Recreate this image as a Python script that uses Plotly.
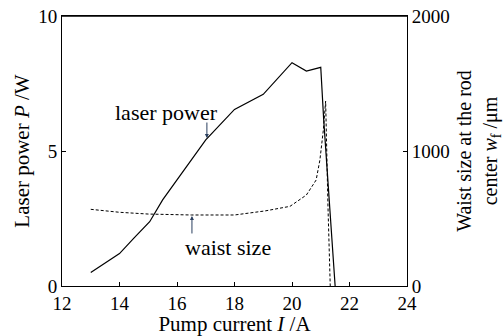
import plotly.graph_objects as go

# Laser power (left axis, W)
power_I = [13.0, 14.0, 14.5, 15.05, 15.5, 16.0, 17.0, 18.0, 19.0, 20.0, 20.5, 21.0, 21.1, 21.5]
power_P = [0.5, 1.2, 1.77, 2.38, 3.19, 3.93, 5.41, 6.54, 7.1, 8.27, 7.96, 8.1, 6.2, 0.0]

# Waist size (right axis, um)
waist_I = [13.0, 14.0, 15.0, 16.5, 18.0, 19.06, 19.93, 20.5, 20.84, 20.97, 21.09, 21.17, 21.25, 21.33]
waist_w = [568, 546, 533, 526, 526, 556, 590, 674, 785, 933, 1155, 1370, 600, 0]

FONT = "Liberation Serif"
FS_TICK = 19
FS_TITLE = 21
FS_ANN = 22

fig = go.Figure()
fig.add_trace(go.Scatter(x=power_I, y=power_P, mode="lines",
                         line=dict(color="black", width=1.2), showlegend=False))
fig.add_trace(go.Scatter(x=waist_I, y=waist_w, mode="lines", yaxis="y2",
                         line=dict(color="black", width=1, dash="3px,2px"), showlegend=False))

fig.add_annotation(x=17.04, y=5.48, ax=17.04, ay=6.11, xref="x", yref="y", axref="x", ayref="y",
                   showarrow=True, arrowhead=2, arrowsize=0.8, arrowwidth=1, text="")
fig.add_annotation(x=15.62, y=6.44, xref="x", yref="y", text="laser power", showarrow=False,
                   font=dict(family=FONT, size=FS_ANN, color="black"))
fig.add_annotation(x=16.52, y=2.59, ax=16.52, ay=1.89, xref="x", yref="y", axref="x", ayref="y",
                   showarrow=True, arrowhead=2, arrowsize=0.8, arrowwidth=1, text="")
fig.add_annotation(x=17.77, y=1.44, xref="x", yref="y", text="waist size", showarrow=False,
                   font=dict(family=FONT, size=FS_ANN, color="black"))

# top edge of the plot frame
fig.add_shape(type="line", xref="paper", yref="paper", x0=0, x1=1, y0=1, y1=1,
              line=dict(color="black", width=1.5), layer="above")

axis_common = dict(showline=True, linecolor="black", linewidth=1, ticks="inside", ticklen=4,
                   tickcolor="black", showgrid=False, zeroline=False, automargin=False,
                   ticklabeloverflow="allow",
                   tickfont=dict(family=FONT, size=FS_TICK, color="black"))

fig.update_layout(
    width=504, height=336,
    margin=dict(l=62, r=97, t=16, b=50),
    paper_bgcolor="white", plot_bgcolor="white",
    font=dict(family=FONT, size=FS_TICK, color="black"),
    xaxis=dict(range=[12, 24], dtick=2, mirror=True,
               title=dict(text="Pump current <i>I</i> /A", standoff=0,
                          font=dict(family=FONT, size=FS_TITLE)), **axis_common),
    yaxis=dict(range=[0, 10], dtick=5,
               title=dict(text="Laser power <i>P</i> /W", standoff=2,
                          font=dict(family=FONT, size=FS_TITLE)), **axis_common),
    yaxis2=dict(range=[0, 2000], dtick=1000, overlaying="y", side="right",
                title=dict(text="Waist size at the rod<br>center <i>w</i><sub>f</sub> /μm", standoff=10,
                           font=dict(family=FONT, size=20)), **axis_common),
)

fig.write_html("out.html", config={"displayModeBar": False},
               post_script="document.body.style.margin='0';document.body.style.overflow='hidden';")
